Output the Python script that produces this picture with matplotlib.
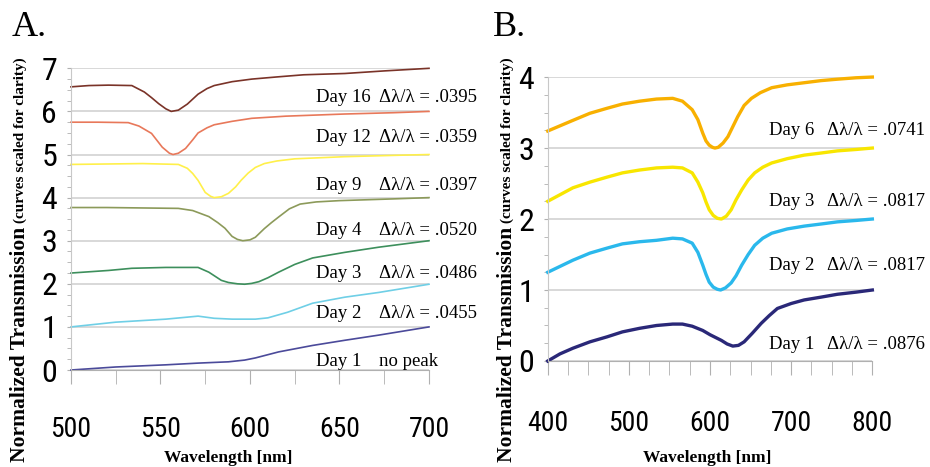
import matplotlib
matplotlib.use("Agg")
import matplotlib.pyplot as plt
from matplotlib import font_manager
from matplotlib.ticker import MultipleLocator

# ---- panel A data ----
a_day16_wl = [500, 510, 521, 534, 541, 545, 549, 553, 556, 560, 565, 571, 576, 580, 590, 601, 615, 630, 653, 675, 700]
a_day16 = [6.57, 6.6, 6.61, 6.6, 6.45, 6.32, 6.18, 6.06, 6.0, 6.03, 6.17, 6.4, 6.53, 6.6, 6.69, 6.75, 6.8, 6.85, 6.88, 6.94, 7.0]

a_day12_wl = [500, 515, 532, 538, 545, 551, 555, 557, 560, 564, 568, 571, 576, 580, 590, 601, 620, 653, 680, 700]
a_day12 = [5.75, 5.75, 5.74, 5.66, 5.49, 5.17, 5.03, 5.0, 5.03, 5.14, 5.34, 5.5, 5.62, 5.69, 5.77, 5.84, 5.89, 5.94, 5.97, 6.0]

a_day9_wl = [500, 520, 540, 560, 565, 568, 571, 575, 578, 580, 584, 588, 592, 595, 599, 603, 608, 615, 625, 653, 680, 700]
a_day9 = [4.77, 4.78, 4.79, 4.77, 4.68, 4.56, 4.4, 4.12, 4.03, 4.0, 4.02, 4.1, 4.25, 4.4, 4.57, 4.7, 4.79, 4.85, 4.9, 4.95, 4.98, 5.0]

a_day4_wl = [500, 520, 540, 560, 568, 577, 582, 586, 590, 593, 596, 600, 603, 608, 612, 616, 622, 628, 637, 650, 665, 680, 700]
a_day4 = [3.77, 3.77, 3.76, 3.75, 3.7, 3.56, 3.42, 3.29, 3.1, 3.03, 3.0, 3.02, 3.08, 3.28, 3.42, 3.55, 3.74, 3.85, 3.9, 3.93, 3.95, 3.97, 4.0]

a_day3_wl = [500, 521, 534, 553, 571, 577, 584, 588, 593, 597, 601, 605, 610, 616, 625, 635, 653, 672, 700]
a_day3 = [2.25, 2.31, 2.36, 2.38, 2.38, 2.27, 2.08, 2.03, 2.0, 1.99, 2.01, 2.05, 2.14, 2.27, 2.45, 2.6, 2.73, 2.85, 3.0]

a_day2_wl = [500, 525, 553, 571, 580, 590, 603, 610, 621, 635, 653, 672, 700]
a_day2 = [1.0, 1.11, 1.18, 1.25, 1.2, 1.18, 1.18, 1.21, 1.34, 1.55, 1.69, 1.8, 1.99]

a_day1_wl = [500, 525, 553, 571, 588, 597, 603, 616, 635, 653, 672, 700]
a_day1 = [0.0, 0.07, 0.12, 0.16, 0.19, 0.23, 0.28, 0.42, 0.57, 0.69, 0.81, 1.0]

a_days = ["Day 16", "Day 12", "Day 9", "Day 4", "Day 3", "Day 2", "Day 1"]
a_notes = ["\u0394\u03bb/\u03bb = .0395", "\u0394\u03bb/\u03bb = .0359", "\u0394\u03bb/\u03bb = .0397",
           "\u0394\u03bb/\u03bb = .0520", "\u0394\u03bb/\u03bb = .0486", "\u0394\u03bb/\u03bb = .0455", "no peak"]

# ---- panel B data ----
b_day6_wl = [400, 431, 452, 473, 492, 513, 534, 554, 566, 578, 585, 591, 595, 599, 603, 606, 610, 616, 622, 628, 634, 642, 651, 662, 676, 695, 716, 737, 757, 780, 800]
b_day6 = [3.24, 3.39, 3.49, 3.56, 3.62, 3.66, 3.69, 3.7, 3.66, 3.54, 3.4, 3.21, 3.1, 3.04, 3.01, 3.0, 3.01, 3.07, 3.16, 3.3, 3.44, 3.6, 3.7, 3.78, 3.85, 3.89, 3.92, 3.95, 3.97, 3.99, 4.0]

b_day3_wl = [400, 431, 452, 473, 492, 513, 534, 554, 566, 578, 585, 591, 595, 599, 604, 609, 614, 620, 626, 632, 639, 647, 655, 665, 676, 695, 716, 737, 757, 780, 800]
b_day3 = [2.25, 2.44, 2.52, 2.59, 2.65, 2.69, 2.72, 2.73, 2.72, 2.65, 2.52, 2.37, 2.24, 2.13, 2.05, 2.01, 2.0, 2.04, 2.13, 2.27, 2.41, 2.55, 2.65, 2.73, 2.79, 2.85, 2.9, 2.93, 2.96, 2.98, 3.0]

b_day2_wl = [400, 431, 452, 473, 492, 513, 534, 554, 566, 578, 585, 591, 595, 599, 604, 609, 613, 619, 626, 632, 639, 647, 655, 665, 676, 695, 716, 737, 757, 780, 800]
b_day2 = [1.25, 1.42, 1.52, 1.59, 1.65, 1.68, 1.7, 1.73, 1.72, 1.66, 1.53, 1.35, 1.22, 1.11, 1.04, 1.01, 1.0, 1.03, 1.1, 1.2, 1.35, 1.5, 1.63, 1.73, 1.8, 1.86, 1.9, 1.93, 1.96, 1.98, 2.0]

b_day1_wl = [400, 415, 431, 452, 473, 492, 513, 534, 554, 566, 578, 591, 600, 607, 614, 621, 628, 635, 642, 652, 663, 673, 683, 700, 716, 737, 757, 780, 800]
b_day1 = [0.0, 0.1, 0.18, 0.27, 0.34, 0.41, 0.46, 0.5, 0.52, 0.52, 0.49, 0.43, 0.37, 0.33, 0.29, 0.24, 0.21, 0.22, 0.27, 0.39, 0.53, 0.64, 0.74, 0.81, 0.86, 0.9, 0.94, 0.97, 1.0]

b_days = ["Day 6", "Day 3", "Day 2", "Day 1"]
b_notes = ["\u0394\u03bb/\u03bb = .0741", "\u0394\u03bb/\u03bb = .0817", "\u0394\u03bb/\u03bb = .0817", "\u0394\u03bb/\u03bb = .0876"]

# narrow face for the tick numbers if one is around
installed = {f.name for f in font_manager.fontManager.ttflist}
TICKFONT = "Liberation Sans"
TICKSIZE = 16
for cand in ["Liberation Sans Narrow", "Roboto Condensed", "DejaVu Sans Condensed", "Open Sans Condensed"]:
    if cand in installed:
        TICKFONT = cand
        TICKSIZE = 20
        break
SERIF = ["Liberation Serif", "DejaVu Serif"]


def style_axes(ax, xmin, xmax, ymax, xpad):
    ax.set_xlim(xmin, xmax)
    ax.set_ylim(0, ymax)
    for s in ["top", "right"]:
        ax.spines[s].set_visible(False)
    ax.spines["left"].set_color("#c8c8c8")
    ax.spines["bottom"].set_color("#b0b0b0")
    ax.set_yticks(range(0, ymax + 1))
    ax.yaxis.set_minor_locator(MultipleLocator(0.25))
    ax.xaxis.set_minor_locator(MultipleLocator(25))
    ax.grid(axis="y", which="major", color="#d6d6d6", linewidth=1.3)
    ax.set_axisbelow(True)
    ax.tick_params(axis="x", which="both", direction="out", length=10, color="#b0b0b0", pad=xpad)
    ax.tick_params(axis="y", which="both", direction="out", length=3, color="#b0b0b0", pad=7)
    for lab in ax.get_xticklabels() + ax.get_yticklabels():
        lab.set_family(TICKFONT)
        lab.set_fontsize(TICKSIZE)
    for lab in ax.get_yticklabels():
        lab.set_fontsize(TICKSIZE + 3)


fig = plt.figure(figsize=(9.3, 4.67), dpi=100)

# panel A
axA = fig.add_axes([0.0763, 0.2077, 0.385, 0.646])
a_series = [(a_day16_wl, a_day16, "#7a3328"), (a_day12_wl, a_day12, "#e8785a"),
            (a_day9_wl, a_day9, "#fff04a"), (a_day4_wl, a_day4, "#8c9a5a"),
            (a_day3_wl, a_day3, "#3d8f5c"), (a_day2_wl, a_day2, "#6fcfe6"),
            (a_day1_wl, a_day1, "#4b4a9a")]
for wl, v, c in a_series:
    axA.plot(wl, v, color=c, linewidth=1.2, clip_on=False)
axA.set_xticks([500, 550, 600, 650, 700])
style_axes(axA, 500, 700, 7, 23)

a_label_y = [6.32, 5.39, 4.28, 3.24, 2.25, 1.32, 0.19]
for d, n, y in zip(a_days, a_notes, a_label_y):
    axA.text(637, y, d, family=SERIF, fontsize=13.5, va="center", clip_on=False)
    axA.text(672, y, n, family=SERIF, fontsize=13.5, va="center", clip_on=False)

# panel B
axB = fig.add_axes([0.589, 0.227, 0.349, 0.608])
b_series = [(b_day6_wl, b_day6, "#f8b000"), (b_day3_wl, b_day3, "#f8e600"),
            (b_day2_wl, b_day2, "#2ab8ec"), (b_day1_wl, b_day1, "#2a2878")]
for wl, v, c in b_series:
    axB.plot(wl, v, color=c, linewidth=2.4, clip_on=False)
axB.set_xticks([400, 500, 600, 700, 800])
style_axes(axB, 400, 800, 4, 25)

b_label_y = [3.25, 2.24, 1.35, 0.23]
for d, n, y in zip(b_days, b_notes, b_label_y):
    axB.text(673, y, d, family=SERIF, fontsize=13.5, va="center", clip_on=False)
    axB.text(744, y, n, family=SERIF, fontsize=13.5, va="center", clip_on=False)

# panel letters, axis titles
fig.text(0.013, 0.942, "A.", family=SERIF, fontsize=26, va="center")
fig.text(0.530, 0.942, "B.", family=SERIF, fontsize=26, va="center")
for x in [0.0215, 0.545]:
    fig.text(x, 0.262, "Normalized Transmission", family=SERIF, fontweight="bold",
             fontsize=15.5, rotation=90, ha="center", va="center")
    fig.text(x, 0.70, "(curves scaled for clarity)", family=SERIF, fontweight="bold",
             fontsize=11, rotation=90, ha="center", va="center")
for x in [0.245, 0.760]:
    fig.text(x, 0.019, "Wavelength [nm]", family=SERIF, fontweight="bold",
             fontsize=12.5, ha="center", va="center")

fig.savefig("out.png", dpi=100)
